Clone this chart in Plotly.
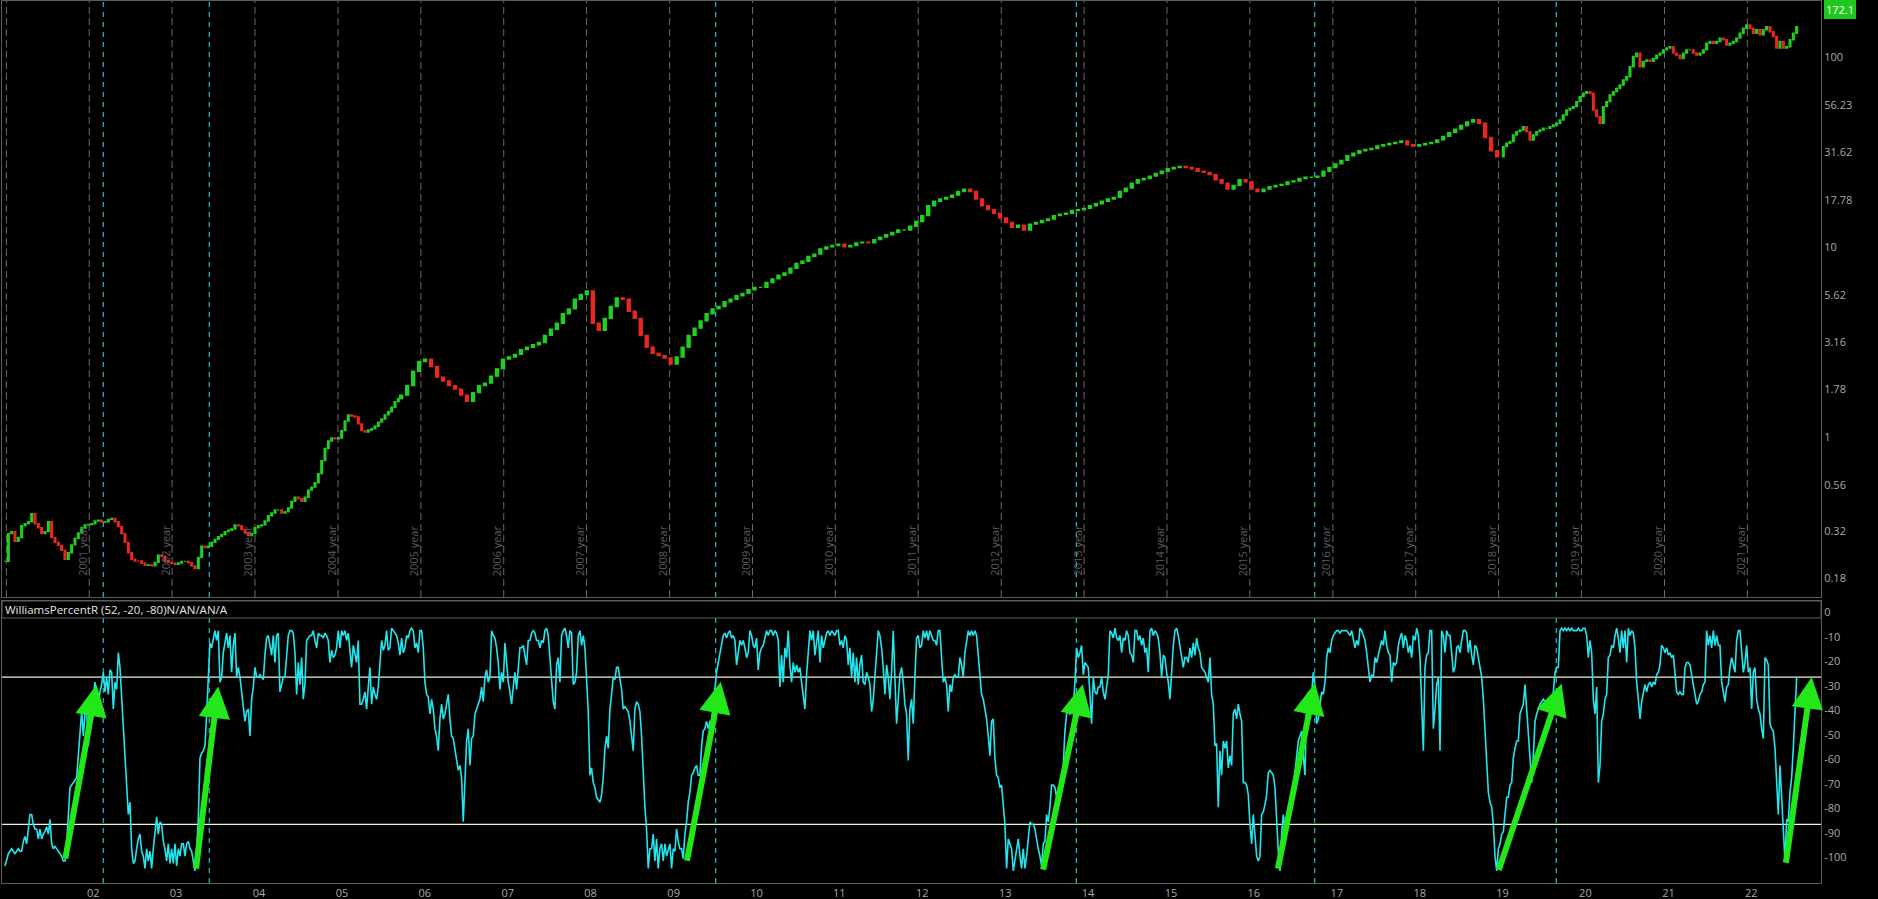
import math
import pandas as pd
import plotly.graph_objects as go

# ------------------------------------------------------------------ data
# weekly-ish closes in three stretches (start, end as decimal years)
PRICE_SEG_SPAN = [(2000.983, 2005.728), (2005.762, 2018.982), (2019.057, 2022.595)]
PRICE_SEG1 = [0.262, 0.367, 0.376, 0.334, 0.350, 0.404, 0.414, 0.424, 0.467, 0.414, 0.394, 0.367, 0.376, 0.424,
              0.350, 0.33, 0.318, 0.30, 0.269, 0.291, 0.32, 0.347, 0.37, 0.394, 0.408, 0.41, 0.414, 0.428,
              0.432, 0.422, 0.424, 0.436, 0.441, 0.424, 0.40, 0.367, 0.33, 0.291, 0.269, 0.263, 0.263, 0.256,
              0.250, 0.251, 0.248, 0.259, 0.282, 0.279, 0.264, 0.259, 0.256, 0.253, 0.257, 0.262, 0.262, 0.258,
              0.248, 0.24, 0.275, 0.315, 0.310, 0.315, 0.33, 0.342, 0.354, 0.363, 0.376, 0.382, 0.388, 0.408,
              0.404, 0.385, 0.37, 0.358, 0.367, 0.394, 0.404, 0.408, 0.428, 0.456, 0.471, 0.489, 0.489, 0.471,
              0.478, 0.501, 0.543, 0.571, 0.56, 0.543, 0.571, 0.622, 0.645, 0.68, 0.76, 0.89, 1.03, 1.13,
              1.17, 1.16, 1.17, 1.28, 1.44, 1.55, 1.53, 1.51, 1.39, 1.28, 1.26, 1.29, 1.31, 1.35,
              1.42, 1.475, 1.55, 1.61, 1.70, 1.82, 1.89]
PRICE_SEG2 = [1.97, 2.21, 2.63, 2.96, 3.05, 2.79, 2.45, 2.34, 2.21, 2.12, 1.97, 1.83, 2.03, 2.21, 2.28, 2.48,
              2.71, 3.05, 3.13, 3.23, 3.42, 3.52, 3.63, 3.73, 4.07, 4.38, 4.71, 5.29, 5.61, 6.30, 6.68, 6.97,
              4.71, 4.32, 5.0, 5.77, 6.4, 6.30, 5.45, 5.0, 4.07, 3.52, 3.27, 3.18, 3.09, 2.87, 3.13, 3.52,
              4.07, 4.44, 4.85, 5.29, 5.61, 5.77, 6.12, 6.30, 6.58, 6.77, 7.08, 7.28, 7.28, 7.72, 8.07, 8.43,
              8.67, 9.19, 9.75, 10.0, 10.6, 10.9, 11.6, 11.9, 12.1, 12.3, 11.9, 12.1, 12.5, 12.6, 12.5, 13.0,
              13.4, 13.8, 14.2, 14.6, 14.6, 15.3, 16.2, 17.4, 19.6, 20.7, 21.3, 21.7, 22.3, 23.3, 24.0, 23.3,
              21.3, 19.6, 18.7, 17.9, 16.9, 16.0, 15.1, 15.5, 14.6, 15.7, 16.0, 16.4, 16.7, 17.4, 17.7, 17.9,
              18.5, 18.7, 19.0, 19.6, 20.1, 20.7, 21.3, 21.7, 23.3, 24.3, 25.8, 26.9, 27.3, 28.1, 29.0, 29.8,
              30.7, 31.2, 31.6, 31.2, 30.7, 29.8, 29.4, 28.6, 26.9, 25.8, 24.0, 25.1, 26.9, 26.2, 24.0, 23.3,
              24.0, 24.7, 25.1, 25.4, 26.2, 26.5, 27.3, 27.7, 27.7, 28.1, 29.8, 31.2, 32.6, 34.0, 36.0, 37.1,
              38.2, 38.8, 39.3, 40.5, 41.1, 41.7, 42.3, 43.0, 41.1, 40.5, 41.1, 41.7, 42.3, 43.6, 45.5, 47.6,
              49.7, 51.9, 54.2, 55.7, 53.4, 44.9, 38.2, 35.5]
PRICE_SEG3 = [40.2, 41.9, 42.7, 46.3, 48.2, 49.2, 51.2, 48.2, 43.5, 46.3, 48.2, 49.2, 50.2, 50.2, 51.2, 52.2,
              53.3, 55.5, 59.0, 62.7, 64.0, 65.3, 69.4, 73.7, 76.8, 78.3, 76.8, 62.7, 57.8, 53.3, 65.3, 69.4,
              75.2, 78.3, 81.5, 84.9, 90.2, 93.9, 106, 120, 125, 106, 113, 115, 113, 117, 122, 125,
              130, 133, 135, 125, 122, 117, 125, 130, 130, 125, 122, 125, 130, 141, 144, 141, 144, 150,
              147, 138, 141, 144, 150, 159, 169, 176, 169, 159, 166, 156, 166, 172, 162, 153, 133, 144,
              133, 135, 147, 159, 172.1]
LAST_PRICE = 172.1

# Williams %R(52) read in six consecutive stretches (start, end as decimal years)
WR_SEG_SPAN = [(2000.983, 2004.642), (2004.662, 2008.261), (2008.281, 2011.880),
               (2011.900, 2015.499), (2015.519, 2019.118), (2019.138, 2022.595)]
WR_SEG1 = [-97, -94, -92, -91, -90, -91, -92, -91, -90, -91, -91, -87, -85, -88, -82, -76, -76, -80, -82, -82,
           -86, -82, -86, -84, -83, -81, -84, -78, -88, -90, -89, -90, -91, -92, -93, -95, -95, -88, -76, -65,
           -64, -63, -62, -61, -52, -41, -34, -44, -35, -34, -48, -35, -31, -29, -22, -27, -31, -26, -23, -18,
           -26, -20, -27, -17, -18, -33, -22, -25, -10, -16, -29, -39, -50, -65, -76, -71, -90, -96, -95, -90,
           -86, -84, -91, -93, -98, -90, -95, -91, -98, -90, -82, -77, -84, -79, -80, -87, -90, -95, -88, -96,
           -90, -96, -88, -97, -90, -93, -88, -88, -93, -88, -87, -90, -91, -95, -99, -90, -78, -53, -51, -50,
           -48, -35, -22, -6, -8, -4, -1, -5, -1, -22, -20, -10, -5, -2, -8, -3, -18, -7, -2, -20,
           -16, -20, -26, -33, -38, -34, -33, -44, -29, -24, -16, -20, -20, -19, -20, -21, -11, -4, -3, -8,
           -11, -3, -14, -3, -2, -26, -23, -20, -20, -10, -3, -1, -1, -2, -10, -27, -14, -23, -12, -29,
           -23, -5, -4]
WR_SEG2 = [-3, -3, -1, -5, -8, -2, -3, -3, -4, -2, -3, -5, -14, -9, -12, -11, -8, -1, -8, -1,
           -3, -1, -5, -2, -8, -16, -7, -11, -14, -5, -31, -31, -29, -26, -33, -24, -16, -31, -24, -27,
           -29, -24, -12, -5, -9, -7, -1, -9, -8, 0, -1, -2, -3, -6, -11, -4, -10, -8, -3, -4,
           -1, 0, -1, -8, -6, -10, -1, -1, -8, -22, -27, -28, -35, -29, -33, -41, -44, -50, -37, -31,
           -37, -35, -30, -27, -37, -44, -45, -49, -54, -58, -56, -61, -79, -64, -46, -41, -56, -45, -44, -35,
           -33, -31, -29, -24, -30, -20, -17, -22, -20, -1, -3, -4, -8, -14, -25, -18, -22, -6, -15, -22,
           -26, -31, -24, -18, -25, -18, -8, -8, -7, -11, -15, -5, -5, -2, -1, -2, -5, -5, -8, -5,
           -6, -1, 0, -3, -12, -20, -30, -33, -15, -12, -22, -3, -1, 0, -3, -8, -1, -2, -23, -22,
           -18, -3, -1, -7, -3, -8, -22, -34, -60, -57, -63, -65, -69, -70, -71, -68, -61, -49, -44, -49]
WR_SEG3 = [-33, -27, -20, -21, -16, -16, -20, -25, -33, -32, -33, -34, -38, -45, -50, -33, -30, -31, -34, -44,
           -59, -73, -82, -98, -90, -90, -84, -95, -86, -98, -90, -88, -95, -88, -93, -90, -88, -98, -90, -91,
           -82, -87, -90, -90, -94, -84, -79, -71, -67, -60, -59, -57, -56, -60, -60, -48, -42, -41, -38, -41,
           -38, -38, -31, -22, -18, -14, -10, -7, -3, -2, -4, -2, -1, -4, -3, -5, -15, -10, -5, -7,
           -5, -8, -12, -10, -1, -3, -7, -8, -4, -17, -10, -8, -7, -4, -1, -3, -1, -1, -3, -1,
           -2, -5, -24, -11, -22, -8, -12, -1, -15, -22, -14, -18, -15, -18, -16, -22, -27, -33, -19, -10,
           -1, -5, -1, -11, -5, -1, -14, -3, -8, -5, -2, -1, -3, -1, -2, -3, -1, -1, -7, -5,
           -8, -3, -5, -15, -8, -20, -10, -22, -12, -23, -15, -11, -22, -23, -18, -20, -23, -34, -29, -19,
           -8, -1, -3, -8, -16, -27, -15, -20, -29, -18, -1, -20, -39, -29, -19, -16, -22, -31, -35, -54]
WR_SEG4 = [-33, -29, -39, -20, -4, -3, -8, -7, -1, -4, -1, -5, -1, -3, -5, -5, -7, -1, -1, -12,
           -22, -20, -23, -34, -23, -26, -20, -19, -20, -20, -12, -15, -20, -10, -5, -1, -3, -1, -3, -1,
           -3, -11, -22, -27, -29, -33, -37, -44, -52, -38, -37, -53, -60, -61, -65, -64, -71, -80, -98, -86,
           -88, -90, -99, -95, -91, -86, -93, -98, -90, -98, -93, -84, -79, -80, -80, -82, -87, -90, -93, -97,
           -88, -87, -76, -79, -73, -64, -64, -65, -69, -65, -67, -60, -56, -42, -35, -34, -35, -34, -33, -22,
           -8, -12, -10, -7, -19, -14, -15, -16, -27, -39, -20, -26, -27, -24, -24, -20, -26, -29, -24, -19,
           -1, -2, -4, 0, -4, -5, -3, -10, -4, -5, -1, -3, -10, -11, -14, -1, -1, -5, -3, -7,
           -4, -10, -8, -18, -1, 0, -3, -1, -2, -4, -10, -20, -11, -12, -18, -22, -29, -15, -7, -1,
           0, -3, -8, -12, -16, -12, -12, -14, -8, -12, -6, -11, -4, -8, -10, -16, -17, -18, -20, -22]
WR_SEG5 = [-12, -27, -31, -48, -47, -73, -50, -60, -46, -49, -46, -57, -52, -56, -35, -33, -37, -31, -35, -38,
           -63, -63, -64, -68, -80, -88, -76, -83, -93, -95, -93, -76, -75, -72, -68, -59, -58, -59, -60, -65,
           -79, -91, -99, -84, -76, -82, -79, -77, -75, -71, -65, -57, -52, -46, -44, -42, -52, -60, -30, -26,
           -30, -27, -18, -24, -39, -37, -31, -26, -27, -22, -12, -8, -10, -5, -3, -2, -1, -1, -2, -1,
           -1, -1, -1, -2, -3, -1, -4, -8, -5, -7, 0, -1, -3, -5, -10, -15, -22, -19, -20, -12,
           -14, -11, -8, -5, -7, -1, -7, -10, -11, -22, -14, -15, -14, -7, -4, -2, -8, -3, -5, -10,
           -7, -12, -3, -5, 0, -3, -12, -29, -50, -16, -11, -10, -1, -1, -41, -33, -23, -20, -50, -1,
           -3, -10, -1, -3, -3, -10, -18, -16, -8, -7, -10, -5, -1, -1, -2, -10, -5, -11, -15, -7,
           -8, -12, -16, -20, -29, -41, -53, -67, -71, -73, -80, -93, -99, -90, -88, -84, -83, -76, -69, -69]
WR_SEG6 = [-64, -63, -53, -49, -46, -46, -35, -33, -31, -23, -33, -39, -49, -63, -52, -38, -35, -33, -31, -30,
           -29, -30, -33, -34, -31, -34, -24, -18, -16, -16, -1, 0, -1, 0, -1, 0, -1, 0, -1, -1,
           -1, 0, -1, -1, 0, 0, -3, -12, -5, -10, -29, -35, -24, -63, -56, -38, -35, -29, -27, -12,
           -11, -7, -8, -3, 0, -4, -10, -1, -8, -1, -14, 0, -3, -1, -2, -8, -22, -29, -37, -30,
           -26, -23, -26, -23, -22, -24, -22, -23, -19, -18, -15, -7, -8, -10, -8, -11, -10, -12, -11, -19,
           -26, -27, -26, -27, -27, -16, -14, -14, -15, -19, -23, -27, -31, -30, -27, -26, -23, -22, -1, -7,
           -3, -8, -1, -7, -3, -7, -7, -22, -26, -30, -24, -23, -16, -12, -15, -18, -5, -1, -1, -10,
           -18, -14, -7, -18, -16, -33, -18, -16, -29, -33, -35, -41, -45, -12, -13, -15, -39, -41, -42, -49,
           -63, -76, -56, -71, -83, -95, -78, -79, -67, -61, -49, -35, -20]

WR_UPPER = -20
WR_LOWER = -80

# vertical event markers (cyan) and signal arrows (tail t, tail %R, tip t, tip %R)
CYAN_EVENTS_T = [2002.169, 2003.448, 2009.556, 2013.906, 2016.782, 2019.696]
ARROWS = [(2001.708, -94.6, 2002.089, -23.1),
          (2003.287, -98.7, 2003.556, -23.8),
          (2009.206, -95.5, 2009.616, -21.8),
          (2013.501, -99.1, 2013.983, -22.9),
          (2016.335, -98.7, 2016.785, -22.4),
          (2018.996, -99.3, 2019.761, -22.7),
          (2022.463, -96.3, 2022.777, -20.0)]

YEAR_LINES = list(range(2001, 2023))          # Jan-1 boundaries
YEAR_LABELS = {y: f"{y - 1} year" for y in range(2002, 2023)}
X_TICK_YEARS = list(range(2002, 2023))
PRICE_TICKS = [0.18, 0.32, 0.56, 1, 1.78, 3.16, 5.62, 10, 17.78, 31.62, 56.23, 100]
WR_TICKS = [0, -10, -20, -30, -40, -50, -60, -70, -80, -90, -100]
X_RANGE_T = (2000.947, 2022.889)


# ------------------------------------------------------------------ helpers
def dy(t):
    y = int(t)
    a = pd.Timestamp(year=y, month=1, day=1)
    b = pd.Timestamp(year=y + 1, month=1, day=1)
    return a + (b - a) * (t - y)


W, H = 1878, 899
PX_L, PX_R = 2, 1821
TOP_Y0, TOP_Y1 = 1, 597
BOT_Y0, BOT_Y1 = 601, 883
STRIP_Y1 = 618


def fy(px):
    return 1 - px / H


GREEN = "#1fd01f"
RED = "#e8281e"
CYAN = "#22e6ee"
ARROW_GREEN = "#22e81a"
GRID = "#5c5c5c"
TXT = "#a8a8a8"

fig = go.Figure()

# ------------------------------------------------------------------ price candles
# each stretch sits on its own (overlaid, identical) x axis so that candle width follows its own spacing
all_close = PRICE_SEG1 + PRICE_SEG2 + PRICE_SEG3
all_open = [all_close[0]] + all_close[:-1]
start = 0
for i, ((t0, t1), seg) in enumerate(zip(PRICE_SEG_SPAN, [PRICE_SEG1, PRICE_SEG2, PRICE_SEG3])):
    n = len(seg)
    o = all_open[start:start + n]
    c = all_close[start:start + n]
    start += n
    fig.add_trace(go.Candlestick(
        x=pd.date_range(dy(t0), dy(t1), periods=n), open=o, close=c,
        high=[max(a, b) for a, b in zip(o, c)], low=[min(a, b) for a, b in zip(o, c)],
        increasing=dict(line=dict(color=GREEN, width=1.4), fillcolor=GREEN),
        decreasing=dict(line=dict(color=RED, width=1.4), fillcolor=RED),
        xaxis="x" if i == 0 else f"x{i + 2}", yaxis="y", showlegend=False, hoverinfo="skip"))

# ------------------------------------------------------------------ Williams %R
wr_x, wr_y = [], []
for (t0, t1), seg in zip(WR_SEG_SPAN, [WR_SEG1, WR_SEG2, WR_SEG3, WR_SEG4, WR_SEG5, WR_SEG6]):
    wr_x += list(pd.date_range(dy(t0), dy(t1), periods=len(seg)))
    wr_y += seg
fig.add_trace(go.Scatter(x=wr_x, y=wr_y, mode="lines", line=dict(color=CYAN, width=1.6),
                         xaxis="x2", yaxis="y2", showlegend=False, hoverinfo="skip"))

# ------------------------------------------------------------------ layout
xr = [dy(X_RANGE_T[0]), dy(X_RANGE_T[1])]
xdom = [PX_L / W, PX_R / W]
axis_common = dict(showgrid=False, zeroline=False, showline=True, linecolor=GRID, linewidth=1, mirror=True)

shapes = []
annotations = []
for y in YEAR_LINES:
    shapes.append(dict(type="line", xref="x", yref="paper", x0=dy(y), x1=dy(y),
                       y0=fy(TOP_Y1), y1=fy(TOP_Y0), line=dict(color="#6a6a6a", width=1, dash="7px,4px"),
                       layer="below"))
    if y in YEAR_LABELS:
        annotations.append(dict(x=dy(y), y=fy(578), xref="x", yref="paper", text=YEAR_LABELS[y],
                                textangle=-90, showarrow=False, xanchor="center", yanchor="bottom",
                                xshift=-7, font=dict(family="Open Sans", size=11, color="#5e5e5e")))
for t in CYAN_EVENTS_T:
    for (a, b) in [(TOP_Y0, TOP_Y1), (STRIP_Y1, BOT_Y1)]:
        shapes.append(dict(type="line", xref="x", yref="paper", x0=dy(t), x1=dy(t),
                           y0=fy(b), y1=fy(a), line=dict(color=CYAN, width=1, dash="5px,5px"), layer="below"))
for lvl in (WR_UPPER, WR_LOWER):
    shapes.append(dict(type="line", xref="paper", yref="y2", x0=xdom[0], x1=xdom[1], y0=lvl, y1=lvl,
                       line=dict(color="#f2f0d8", width=1.2), layer="below"))
# indicator caption strip
shapes.append(dict(type="rect", xref="paper", yref="paper", x0=xdom[0], x1=xdom[1],
                   y0=fy(STRIP_Y1), y1=fy(BOT_Y0), fillcolor="black", line=dict(color=GRID, width=1),
                   layer="above"))
annotations.append(dict(x=xdom[0], y=fy((BOT_Y0 + STRIP_Y1) / 2), xref="paper", yref="paper",
                        text="WilliamsPercentR (52, -20, -80)N/AN/AN/A", showarrow=False,
                        xanchor="left", yanchor="middle", xshift=1,
                        font=dict(family="Open Sans", size=11.5, color="#e6e6e6")))
for (t0, v0, t1, v1) in ARROWS:
    annotations.append(dict(x=dy(t1), y=v1, ax=dy(t0), ay=v0, xref="x2", yref="y2", axref="x2", ayref="y2",
                            text="", showarrow=True, arrowhead=2, arrowsize=1.05, arrowwidth=6,
                            arrowcolor=ARROW_GREEN, standoff=0))
# last price tag
annotations.append(dict(x=1, xref="paper", xanchor="left", xshift=-(W - PX_R) + 3,
                        y=math.log10(LAST_PRICE), yref="y", yshift=17, yanchor="middle",
                        text=f"{LAST_PRICE:g}", showarrow=False, bgcolor="#1ec81e", bordercolor="#1ec81e",
                        borderpad=1, font=dict(family="Open Sans", size=11, color="white")))

hidden_x = dict(domain=xdom, anchor="y", type="date", range=xr, overlaying="x", matches="x",
                visible=False, showgrid=False, zeroline=False, rangeslider=dict(visible=False))

fig.update_layout(
    width=W, height=H, margin=dict(l=0, r=0, t=0, b=0),
    paper_bgcolor="black", plot_bgcolor="black",
    showlegend=False, hovermode=False,
    xaxis=dict(domain=xdom, anchor="y", type="date", range=xr, showticklabels=False, ticks="",
               rangeslider=dict(visible=False), **axis_common),
    xaxis3=hidden_x, xaxis4=hidden_x,
    yaxis=dict(domain=[fy(TOP_Y1), fy(TOP_Y0)], anchor="x", type="log", side="right",
               range=[-0.7694, 2.3715], tickvals=PRICE_TICKS, ticktext=[f"{v:g}" for v in PRICE_TICKS],
               ticks="", ticklabelshift=-14, tickfont=dict(family="Open Sans", size=11, color=TXT),
               **axis_common),
    xaxis2=dict(domain=xdom, anchor="y2", type="date", range=xr, matches="x",
                tickvals=[dy(y) for y in X_TICK_YEARS], ticktext=[f"{y % 100:02d}" for y in X_TICK_YEARS],
                ticks="", ticklabelshift=4, tickfont=dict(family="Open Sans", size=11, color=TXT),
                **axis_common),
    yaxis2=dict(domain=[fy(BOT_Y1), fy(BOT_Y0)], anchor="x2", side="right", range=[-103.96, 11.1],
                tickvals=WR_TICKS, ticktext=[str(v) for v in WR_TICKS], ticks="", ticklabelshift=-16,
                tickfont=dict(family="Open Sans", size=11, color=TXT), **axis_common),
    shapes=shapes, annotations=annotations,
)

fig.write_html("out.html", config={"displayModeBar": False},
               post_script="document.documentElement.style.overflow='hidden';"
                           "document.body.style.margin='0';document.body.style.overflow='hidden';")
